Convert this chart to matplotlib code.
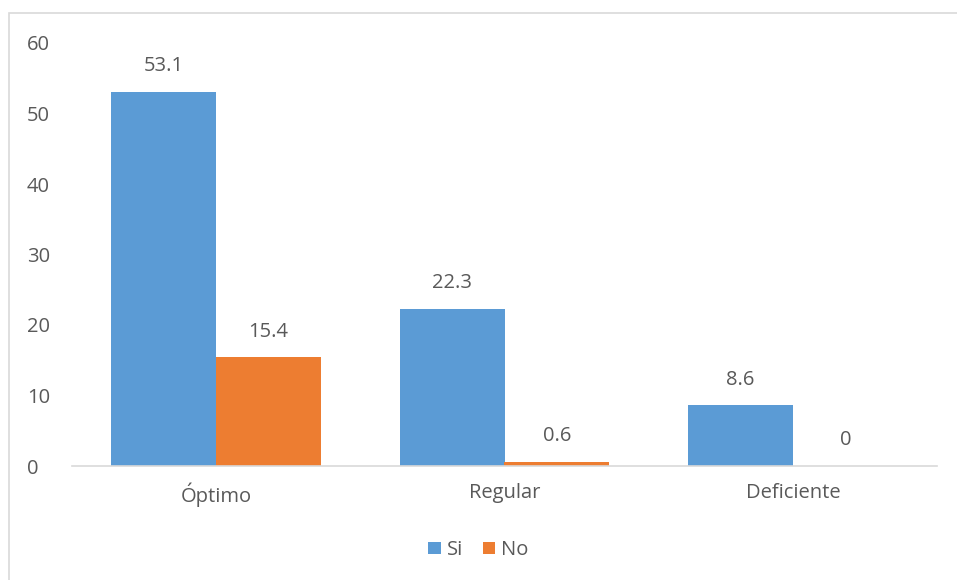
import matplotlib
matplotlib.use("Agg")
import matplotlib.pyplot as plt
from matplotlib.patches import Rectangle
import numpy as np

categories = ["Óptimo", "Regular", "Deficiente"]
si_values = [53.1, 22.3, 8.6]
no_values = [15.4, 0.6, 0]
series_names = ["Si", "No"]
yticks = [0, 10, 20, 30, 40, 50, 60]

plt.rcParams['font.family'] = ['Open Sans', 'DejaVu Sans']
txt = '#595959'
fs = 14.5

fig = plt.figure(figsize=(9.57, 5.80), dpi=100)
fig.patches.append(Rectangle((9/957, -0.01), 1.0, 1 - 13/580 + 0.01, transform=fig.transFigure,
                             fill=False, edgecolor='#d9d9d9', linewidth=1.2))
ax = fig.add_axes([72/957, 114/580, 865/957, (466-43)/580])

x = np.arange(len(categories))
w = 0.364
b1 = ax.bar(x - w/2, si_values, w, color='#5B9BD5', label=series_names[0])
b2 = ax.bar(x + w/2, no_values, w, color='#ED7D31', label=series_names[1])

for bars, vals in ((b1, si_values), (b2, no_values)):
    for r, v in zip(bars, vals):
        ax.text(r.get_x() + r.get_width()/2, v + 2.2, f"{v:g}", ha='center', va='bottom',
                fontsize=fs, color=txt)

ax.set_xlim(-0.5, 2.5)
ax.set_ylim(0, 60)
ax.set_yticks(yticks)
ax.set_xticks(x)
ax.set_xticklabels(categories)
ax.tick_params(axis='both', length=0, labelsize=fs, colors=txt)
ax.tick_params(axis='x', pad=12)
ax.tick_params(axis='y', pad=32.5)
for lbl in ax.get_yticklabels():
    lbl.set_horizontalalignment('left')
for s in ['top', 'right', 'left']:
    ax.spines[s].set_visible(False)
ax.spines['bottom'].set_color('#d9d9d9')
ax.spines['bottom'].set_linewidth(1.2)

leg = fig.legend(loc='center', bbox_to_anchor=(0.5, 1 - 550/580), ncol=2, frameon=False,
                 fontsize=fs, handlelength=0.6, handleheight=0.6, handletextpad=0.3,
                 columnspacing=1.0)
for t in leg.get_texts():
    t.set_color(txt)

fig.savefig("out.png", dpi=100)
